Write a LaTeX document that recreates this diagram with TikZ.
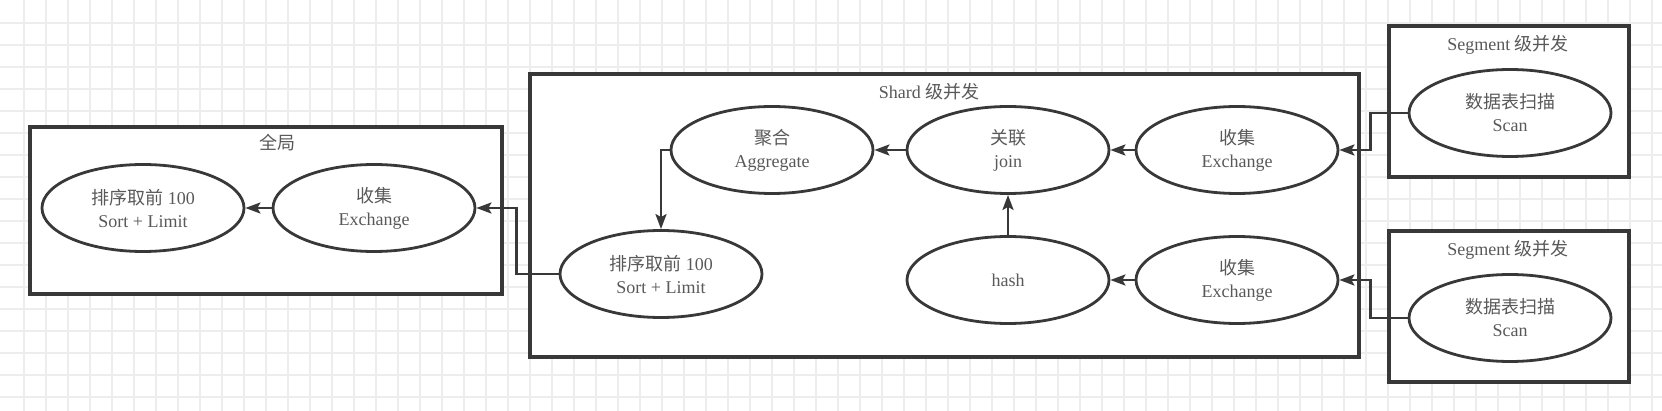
\documentclass[tikz,border=0pt]{standalone}
\usepackage{fontspec}
\setmainfont{Liberation Serif}
\newfontfamily\cjk{Noto Sans CJK SC}
\usetikzlibrary{arrows.meta}
\usetikzlibrary{shapes.geometric}
\definecolor{linha}{HTML}{383838}
\definecolor{texto}{HTML}{595959}
\definecolor{grade}{HTML}{EDEDED}

\begin{document}
\begin{tikzpicture}[x=1pt, y=-1pt, >={Stealth[length=15pt,width=11pt,inset=3pt]},
    caixa/.style={draw=linha, fill=white, line width=3.4pt},
    oper/.style={ellipse, draw=linha, fill=white, line width=2.8pt, minimum width=202pt,
        minimum height=87pt, inner sep=0pt, align=center, text=texto,
        font=\fontsize{18}{23}\selectfont},
    titulo/.style={text=texto, inner sep=0pt, font=\fontsize{18}{23}\selectfont},
    seta/.style={draw=linha, line width=2.6pt, ->}]

    % Fundo e grade
    \fill[white] (0,0) rectangle (1662,411);
    \useasboundingbox (0,0) rectangle (1662,411);
    \foreach \gx in {24,46,...,1652} \draw[grade, line width=1.4pt] (\gx,0) -- (\gx,411);
    \foreach \gy in {23,45,...,397} \draw[grade, line width=1.4pt] (0,\gy) -- (1662,\gy);

    % Caixas dos niveis
    \draw[caixa] (30,127) rectangle (502,294);
    \draw[caixa] (530,74) rectangle (1359,357);
    \draw[caixa] (1389,26) rectangle (1629,177);
    \draw[caixa] (1389,231) rectangle (1629,382);

    % Titulos das caixas
    \node[titulo] (tGlob) at (277,143) {{\cjk 全局}};
    \node[titulo] (tShard) at (929,92) {Shard {\cjk 级并发}};
    \node[titulo] (tSegA) at (1508,45) {Segment {\cjk 级并发}};
    \node[titulo] (tSegB) at (1508,250) {Segment {\cjk 级并发}};

    % Operadores - nivel global
    \node[oper] (ordG) at (143,208) {{\cjk 排序取前} 100\\Sort + Limit};
    \node[oper] (colG) at (374,208) {{\cjk 收集}\\Exchange};

    % Operadores - nivel shard
    \node[oper] (agr) at (772,150) {{\cjk 聚合}\\Aggregate};
    \node[oper] (jun) at (1008,150) {{\cjk 关联}\\join};
    \node[oper] (colA) at (1237,150) {{\cjk 收集}\\Exchange};
    \node[oper] (ordS) at (661,274) {{\cjk 排序取前} 100\\Sort + Limit};
    \node[oper] (hsh) at (1008,280) {hash};
    \node[oper] (colB) at (1237,280) {{\cjk 收集}\\Exchange};

    % Operadores - nivel segment
    \node[oper] (scanA) at (1510,113) {{\cjk 数据表扫描}\\Scan};
    \node[oper] (scanB) at (1510,318) {{\cjk 数据表扫描}\\Scan};

    % Setas
    \draw[seta] (colG.west) -- (ordG.east);
    \draw[seta] (ordS.west) -- ++(-42,0) |- (colG.east);
    \draw[seta] (agr.west) -| (ordS.north);
    \draw[seta] (jun.west) -- (agr.east);
    \draw[seta] (hsh.north) -- (jun.south);
    \draw[seta] (colA.west) -- (jun.east);
    \draw[seta] (colB.west) -- (hsh.east);
    \draw[seta] (scanA.west) -- ++(-37,0) |- (colA.east);
    \draw[seta] (scanB.west) -- ++(-37,0) |- (colB.east);

\end{tikzpicture}
\end{document}
